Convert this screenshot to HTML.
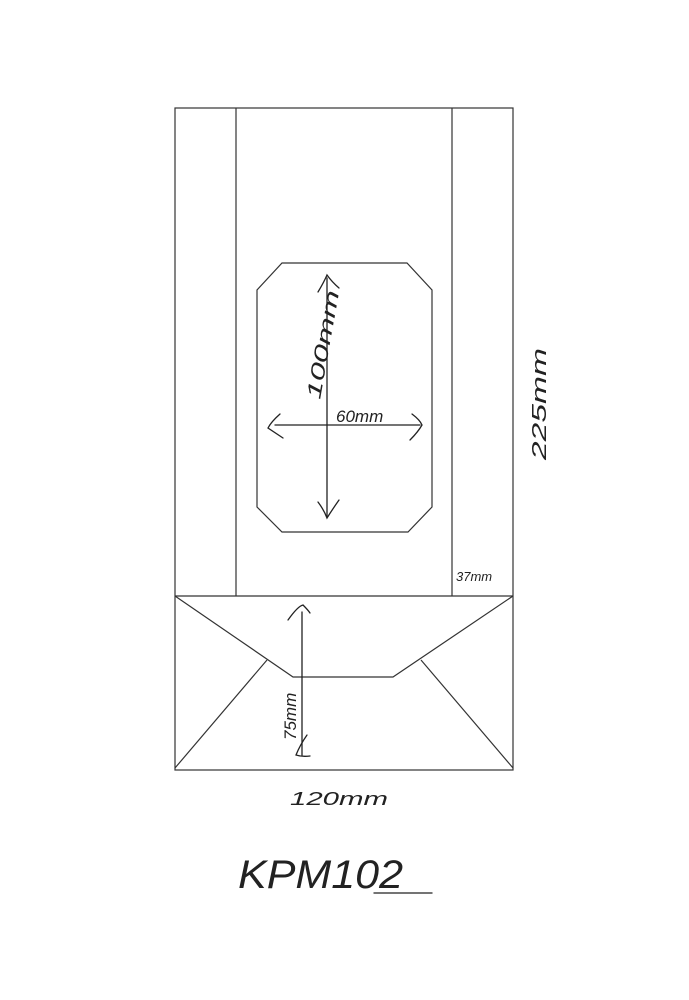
<!DOCTYPE html>
<html><head><style>body{margin:0;background:#fff}svg{display:block}</style></head><body>
<svg width="689" height="1000" viewBox="0 0 689 1000" xmlns="http://www.w3.org/2000/svg">
<rect width="689" height="1000" fill="#fff"/>
<g stroke="#333" stroke-width="1.2" fill="none">
<rect x="175" y="108" width="338" height="662"/>
<line x1="236" y1="108" x2="236" y2="596"/>
<line x1="452" y1="108" x2="452" y2="596"/>
<line x1="175" y1="596" x2="513" y2="596"/>
<polyline points="175,596 293,677 393,677 513,596"/>
<line x1="175" y1="768" x2="267" y2="660"/>
<line x1="421" y1="660" x2="513" y2="768"/>
<polygon points="282,263 407,263 432,290 432,507 408,532 282,532 257,507 257,290"/>
</g>
<g stroke="#222" stroke-width="1.3" fill="none" stroke-linecap="round">
<line x1="327" y1="278" x2="327" y2="516"/>
<path d="M318,292 Q324,282 327,275 Q332,282 339,288"/>
<path d="M318,502 Q324,510 327,518 Q332,510 339,500"/>
<line x1="275" y1="425" x2="420" y2="425"/>
<path d="M280,414 Q271,422 268,428 Q274,432 283,438"/>
<path d="M412,414 Q420,420 422,425 Q418,432 410,440"/>
<line x1="302" y1="612" x2="302" y2="755"/>
<path d="M288,620 Q298,606 303,605 Q308,610 310,613"/>
<path d="M307,735 Q300,745 296,755 Q302,757 310,756"/>
<path d="M374,893 L432,893"/>
</g>
<g font-family="Liberation Sans, sans-serif" font-style="italic" fill="#222">
<text x="0" y="0" font-size="20" transform="translate(320,400) rotate(-80)" textLength="110" lengthAdjust="spacingAndGlyphs">100mm</text>
<text x="336" y="422" font-size="17">60mm</text>
<text x="0" y="0" font-size="20" transform="translate(546,460) rotate(-90)" textLength="112" lengthAdjust="spacingAndGlyphs">225mm</text>
<text x="456" y="581" font-size="13">37mm</text>
<text x="0" y="0" font-size="17" transform="translate(296,740) rotate(-90)">75mm</text>
<text x="290" y="805" font-size="18" textLength="98" lengthAdjust="spacingAndGlyphs">120mm</text>
<text x="238" y="888" font-size="40" textLength="165" lengthAdjust="spacingAndGlyphs">KPM102</text>
</g>
</svg>
</body></html>
